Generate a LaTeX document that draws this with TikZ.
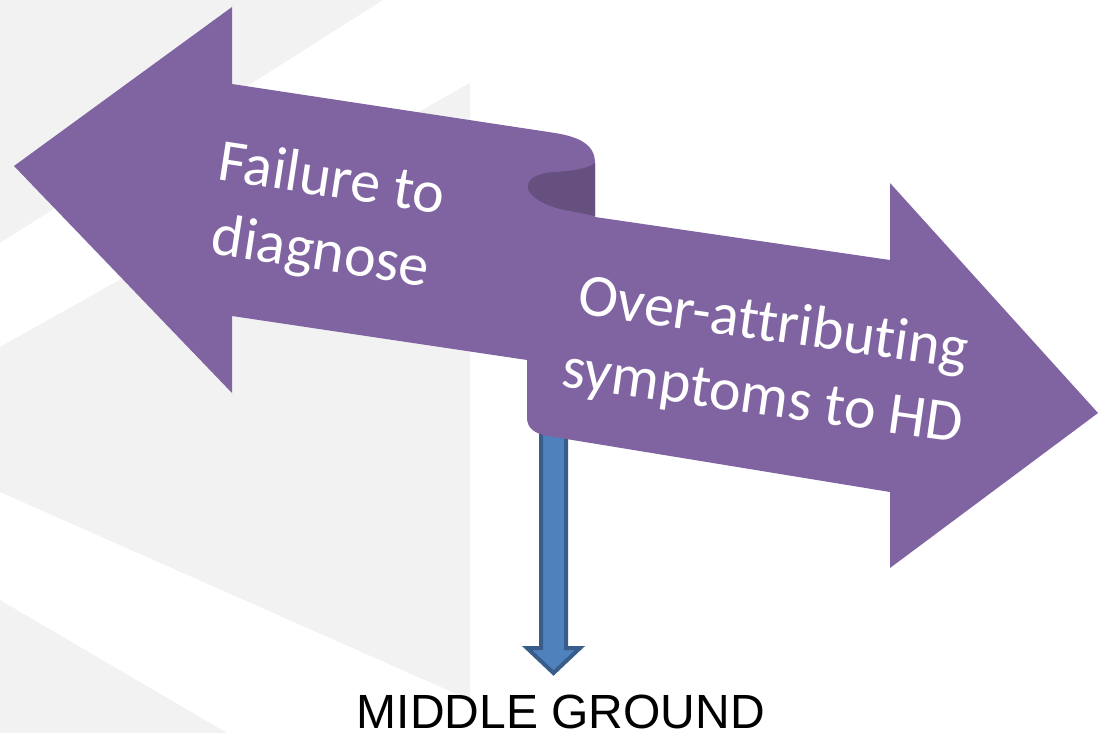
\documentclass[tikz,border=0pt]{standalone}
\usepackage{fontspec}
\setmainfont{Carlito}[Ligatures=NoCommon]
\newfontfamily\arialfont{Liberation Sans}
\usetikzlibrary{positioning}
\definecolor{rbpurple}{HTML}{8064A2}
\definecolor{rbfold}{HTML}{65507F}
\definecolor{mgblue}{HTML}{4F81BD}
\definecolor{mgedge}{HTML}{385D8A}
\definecolor{bggray}{HTML}{F2F2F2}

\begin{document}
\begin{tikzpicture}[x=0.5pt,y=-0.5pt,
 bg/.style={fill=bggray,draw=none},
 ribbon/.style={fill=rbpurple,draw=none},
 fold/.style={fill=rbfold,draw=none},
 downarr/.style={fill=mgblue,draw=mgedge,line width=2pt,line join=miter},
 lbl/.style={text=white,font=\fontsize{30}{37}\selectfont,align=center,inner sep=0pt},
 caption/.style={font=\arialfont\fontsize{24}{28}\selectfont,inner sep=0pt}
]
\useasboundingbox (0,0) rectangle (1098,733);
% background stripes
\fill[bg] (0,0) -- (383,0) -- (0,243) -- cycle;
\fill[bg] (470,83) -- (0,347) -- (0,492) -- (470,700) -- cycle;
\fill[bg] (0,600) -- (227,733) -- (0,733) -- cycle;

% down arrow behind the ribbon
\draw[downarr] (541,425) -- (541,648) -- (527,648) -- (553.5,673) -- (580,648) -- (566,648) -- (566,425) -- cycle;

% twisted ribbon arrow
\fill[ribbon] (14,166) -- (232,7) -- (232,84) -- (555,133)
  .. controls (580,137) and (595,145) .. (595,163) -- (595,217) -- (890,260)
  -- (890,183) -- (1098,413) -- (890,568) -- (890,492) -- (548,436)
  .. controls (535,434) and (527,428) .. (527,418) -- (527,360)
  -- (232,316) -- (232,393) -- cycle;
\fill[fold] (595,163) .. controls (585,170) and (570,171) .. (555,172)
  .. controls (535,173) and (527,180) .. (528,188)
  .. controls (529,197) and (545,205) .. (560,209) -- (595,216) -- cycle;

\node[lbl,rotate=-8.7] (fail) at (326,218) {Failure to\\diagnose};
\node[lbl,rotate=-8] (over) at (768,362) {Over-attributing\\symptoms to HD};
\node[caption,anchor=base] (mid) at (561,728) {MIDDLE GROUND};
\end{tikzpicture}
\end{document}
